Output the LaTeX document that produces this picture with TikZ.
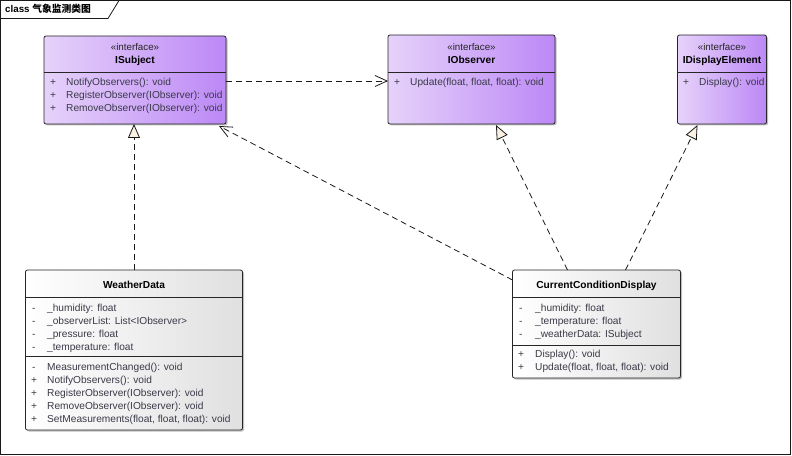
\documentclass[tikz,border=0pt]{standalone}
\usepackage{fontspec}
\setmainfont{Liberation Sans}
\newfontfamily\cjk{Noto Sans CJK SC}
\usetikzlibrary{arrows.meta,calc,shadows}
\definecolor{ifL}{HTML}{E6D2FA}
\definecolor{ifR}{HTML}{BC88F6}
\definecolor{clsR}{HTML}{E0E0E0}
\definecolor{cream}{HTML}{FBF1E3}
\definecolor{txt}{HTML}{3A3A48}
\begin{document}
\begin{tikzpicture}[x=1bp,y=-1bp,
  box/.style={draw=black!85, line width=0.8bp, rounded corners=2bp, anchor=north west,
    inner sep=0pt, outer sep=0pt,
    drop shadow={shadow xshift=1.5bp, shadow yshift=-1.5bp, opacity=0.25, fill=black}},
  iface/.style={box, left color=ifL, right color=ifR},
  cls/.style={box, left color=white, right color=clsR},
  divider/.style={draw=black!85, line width=0.8bp},
  mem/.style={anchor=mid west, inner sep=0pt, font=\fontsize{10.2}{12}\selectfont, text=txt, yshift=-0.6bp},
  stereo/.style={anchor=mid, inner sep=0pt, font=\fontsize{9.8}{11}\selectfont, text=black!85, yshift=-0.5bp},
  ttl/.style={anchor=mid, inner sep=0pt, font=\fontsize{10.2}{12}\selectfont\bfseries, text=black, yshift=-0.5bp},
  dep/.style={draw=black!90, line width=0.8bp, dash pattern=on 6bp off 4bp,
    -{Straight Barb[length=12bp,width=11bp]}},
  real/.style={draw=black!90, line width=0.8bp, dash pattern=on 6bp off 4bp,
    -{Triangle[open, length=14bp, width=12bp, fill=cream]}}
]
\useasboundingbox (0,0) rectangle (792,456);
% frame
\draw[line width=1bp, black!90] (0.5,0.5) rectangle (790.5,454.5);
\draw[line width=0.8bp, black!90] (0.5,18.5) -- (108,18.5) -- (119,0.5);
\node[anchor=mid west, inner sep=0pt, font=\fontsize{9.8}{11}\selectfont\bfseries] (title) at (5,10) {class {\cjk 气象监测类图}};

% ISubject
\node[iface, minimum width=182bp, minimum height=88bp] (isub) at (44,36) {};
\draw[divider] ($(isub.north west)+(0,36)$) -- ($(isub.north east)+(0,36)$);
\node[stereo] (isubst) at (135,47) {«interface»};
\node[ttl] (isubt) at (135,60) {ISubject};
\node[mem] (isub1p) at (50,82) {+};
\node[mem] (isub1) at (66,82) {NotifyObservers(): void};
\node[mem] (isub2p) at (50,95) {+};
\node[mem] (isub2) at (66,95) {RegisterObserver(IObserver): void};
\node[mem] (isub3p) at (50,108) {+};
\node[mem] (isub3) at (66,108) {RemoveObserver(IObserver): void};

% IObserver
\node[iface, minimum width=167bp, minimum height=89bp] (iobs) at (388,35) {};
\draw[divider] ($(iobs.north west)+(0,37)$) -- ($(iobs.north east)+(0,37)$);
\node[stereo] (iobsst) at (471.5,47) {«interface»};
\node[ttl] (iobst) at (471.5,60) {IObserver};
\node[mem] (iobs1p) at (394,82) {+};
\node[mem] (iobs1) at (410,82) {Update(float, float, float): void};

% IDisplayElement
\node[iface, minimum width=89bp, minimum height=89bp] (idisp) at (677.5,35) {};
\draw[divider] ($(idisp.north west)+(0,37)$) -- ($(idisp.north east)+(0,37)$);
\node[stereo] (idispst) at (722,47) {«interface»};
\node[ttl] (idispt) at (722,60) {IDisplayElement};
\node[mem] (idisp1p) at (683,82) {+};
\node[mem] (idisp1) at (699,82) {Display(): void};

% WeatherData
\node[cls, minimum width=217bp, minimum height=160bp] (wd) at (25.5,270) {};
\draw[divider] ($(wd.north west)+(0,27.5)$) -- ($(wd.north east)+(0,27.5)$);
\draw[divider] ($(wd.north west)+(0,86.5)$) -- ($(wd.north east)+(0,86.5)$);
\node[ttl] (wdt) at (134,285) {WeatherData};
\node[mem] (wda1p) at (32,308) {-};
\node[mem] (wda1) at (47,308) {\_humidity: float};
\node[mem] (wda2p) at (32,321) {-};
\node[mem] (wda2) at (47,321) {\_observerList: List<IObserver>};
\node[mem] (wda3p) at (32,334) {-};
\node[mem] (wda3) at (47,334) {\_pressure: float};
\node[mem] (wda4p) at (32,347) {-};
\node[mem] (wda4) at (47,347) {\_temperature: float};
\node[mem] (wdm1p) at (32,367) {-};
\node[mem] (wdm1) at (47,367) {MeasurementChanged(): void};
\node[mem] (wdm2p) at (31,380) {+};
\node[mem] (wdm2) at (47,380) {NotifyObservers(): void};
\node[mem] (wdm3p) at (31,393) {+};
\node[mem] (wdm3) at (47,393) {RegisterObserver(IObserver): void};
\node[mem] (wdm4p) at (31,406) {+};
\node[mem] (wdm4) at (47,406) {RemoveObserver(IObserver): void};
\node[mem] (wdm5p) at (31,419) {+};
\node[mem] (wdm5) at (47,419) {SetMeasurements(float, float, float): void};

% CurrentConditionDisplay
\node[cls, minimum width=168bp, minimum height=108bp] (ccd) at (512.5,270) {};
\draw[divider] ($(ccd.north west)+(0,27.5)$) -- ($(ccd.north east)+(0,27.5)$);
\draw[divider] ($(ccd.north west)+(0,75.5)$) -- ($(ccd.north east)+(0,75.5)$);
\node[ttl] (ccdt) at (596.5,285) {CurrentConditionDisplay};
\node[mem] (ccda1p) at (519,308) {-};
\node[mem] (ccda1) at (535,308) {\_humidity: float};
\node[mem] (ccda2p) at (519,321) {-};
\node[mem] (ccda2) at (535,321) {\_temperature: float};
\node[mem] (ccda3p) at (519,334) {-};
\node[mem] (ccda3) at (535,334) {\_weatherData: ISubject};
\node[mem] (ccdm1p) at (518,354) {+};
\node[mem] (ccdm1) at (535,354) {Display(): void};
\node[mem] (ccdm2p) at (518,367) {+};
\node[mem] (ccdm2) at (535,367) {Update(float, float, float): void};

% connectors
\draw[dep] ($(isub.north east)+(0,45)$) -- ($(iobs.north west)+(0,46)$);
\draw[real] (wd.north) -- (wd.north |- isub.south);
\draw[dep] ($(ccd.north west)+(0,10)$) -- ($(isub.south east)+(-7,2)$);
\draw[real] ($(ccd.north west)+(55,0)$) -- ($(iobs.south west)+(108,1)$);
\draw[real] ($(ccd.north west)+(113,0)$) -- ($(idisp.south west)+(20,1)$);
\end{tikzpicture}
\end{document}
